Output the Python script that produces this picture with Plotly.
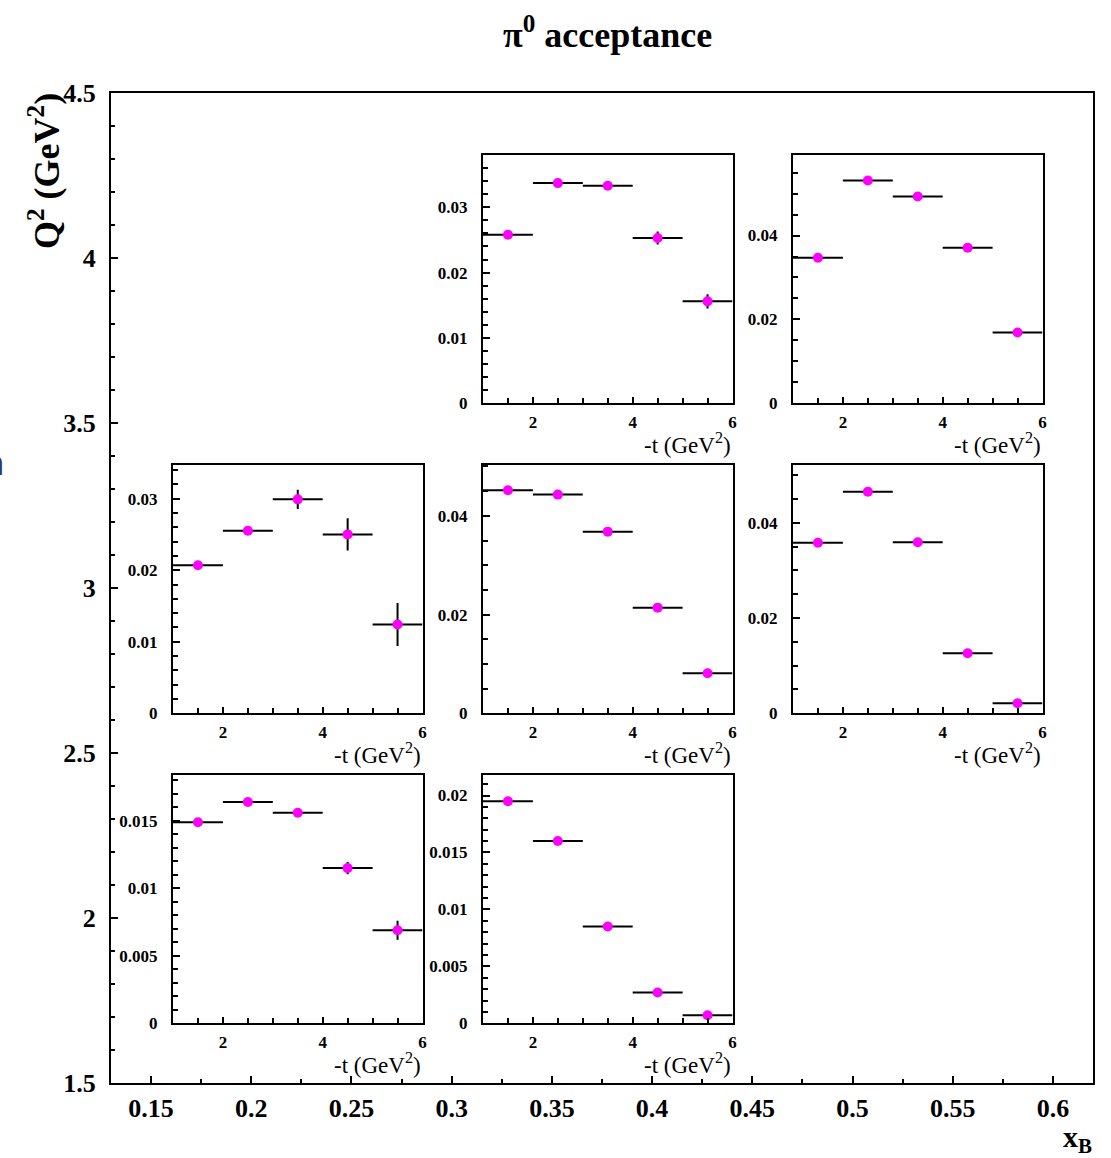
import plotly.graph_objects as go

# ---------------- data ----------------
t_centers = [1.5, 2.5, 3.5, 4.5, 5.5]
t_halfwidth = [0.5, 0.5, 0.5, 0.5, 0.5]

# acceptance values per (xB, Q2) bin panel
acc_A = [0.0258, 0.0337, 0.0333, 0.0253, 0.0156]
err_A = [0.0004, 0.0004, 0.0004, 0.0010, 0.0011]
acc_B = [0.0347, 0.0531, 0.0493, 0.0371, 0.0169]
err_B = [0.0005, 0.0005, 0.0005, 0.0005, 0.0005]
acc_C = [0.0207, 0.0255, 0.0299, 0.0250, 0.0124]
err_C = [0.0004, 0.0004, 0.00135, 0.00225, 0.0030]
acc_D = [0.0452, 0.0443, 0.0368, 0.0214, 0.0081]
err_D = [0.0005, 0.0005, 0.0005, 0.0005, 0.0004]
acc_E = [0.0358, 0.0465, 0.0359, 0.0126, 0.0021]
err_E = [0.0005, 0.0005, 0.0005, 0.0004, 0.0003]
acc_F = [0.0149, 0.0164, 0.0156, 0.0115, 0.0069]
err_F = [0.0002, 0.0002, 0.0002, 0.00045, 0.0007]
acc_G = [0.0195, 0.0160, 0.0085, 0.0027, 0.0007]
err_G = [0.0002, 0.0002, 0.0002, 0.0001, 0.0001]

xB_ticks = [0.15, 0.2, 0.25, 0.3, 0.35, 0.4, 0.45, 0.5, 0.55, 0.6]
xB_labels = ["0.15", "0.2", "0.25", "0.3", "0.35", "0.4", "0.45", "0.5", "0.55", "0.6"]
Q2_ticks = [1.5, 2, 2.5, 3, 3.5, 4, 4.5]
Q2_labels = ["1.5", "2", "2.5", "3", "3.5", "4", "4.5"]

# ---------------- layout geometry ----------------
W, H = 1111, 1158
FONT = "Liberation Serif"
MAG = "#ff00ff"

def px_x(p):
    return p / W

def px_y(p):
    return 1 - p / H

# panel: (values, errors, col, row, ymax, dtick, minor dtick)
panels = [
    (acc_A, err_A, 1, 0, 0.0380, 0.01, 0.002),
    (acc_B, err_B, 2, 0, 0.0592, 0.02, 0.005),
    (acc_C, err_C, 0, 1, 0.0347, 0.01, 0.002),
    (acc_D, err_D, 1, 1, 0.0503, 0.02, 0.005),
    (acc_E, err_E, 2, 1, 0.0521, 0.02, 0.005),
    (acc_F, err_F, 0, 2, 0.0184, 0.005, 0.001),
    (acc_G, err_G, 1, 2, 0.0218, 0.005, 0.001),
]
col_left = [173, 483, 793]
row_top = [155, 465, 775]
pw, ph = 249.5, 248.3

fig = go.Figure()

fig.add_trace(go.Scatter(x=[None], y=[None], xaxis="x", yaxis="y", showlegend=False))

layout = dict(
    width=W, height=H, autosize=False,
    margin=dict(l=0, r=0, t=0, b=0, pad=0, autoexpand=False),
    paper_bgcolor="white", plot_bgcolor="white",
    showlegend=False,
    font=dict(family=FONT, color="black"),
)

layout["xaxis"] = dict(
    domain=[px_x(111), px_x(1093)], range=[0.13, 0.62],
    tickvals=xB_ticks, ticktext=xB_labels,
    showline=True, mirror=True, linecolor="black", linewidth=2,
    ticks="inside", ticklen=7, tickwidth=1.5, tickcolor="black",
    minor=dict(dtick=0.025, tick0=0.0, ticks="inside", ticklen=4, tickwidth=1.5, tickcolor="black"),
    showgrid=False, zeroline=False, automargin=False,
    tickfont=dict(family=FONT, size=26, weight="bold"),
    ticklabelstandoff=1,
    anchor="y",
)
layout["yaxis"] = dict(
    domain=[px_y(1083), px_y(93)], range=[1.5, 4.5],
    tickvals=Q2_ticks, ticktext=Q2_labels,
    showline=True, mirror=True, linecolor="black", linewidth=2,
    ticks="inside", ticklen=7, tickwidth=1.5, tickcolor="black",
    minor=dict(dtick=0.1, tick0=0.0, ticks="inside", ticklen=4, tickwidth=1.5, tickcolor="black"),
    showgrid=False, zeroline=False, automargin=False,
    tickfont=dict(family=FONT, size=26, weight="bold"),
    ticklabelstandoff=8,
    anchor="x",
)

annotations = []

for i, (vals, errs, col, row, ymax, dt, mdt) in enumerate(panels):
    k = i + 2
    xa, ya = f"x{k}", f"y{k}"
    x0 = col_left[col]
    y0 = row_top[row]
    fig.add_trace(go.Scatter(
        x=t_centers, y=vals, xaxis=xa, yaxis=ya, mode="markers",
        marker=dict(color=MAG, size=10, line=dict(width=0)),
        error_x=dict(type="data", array=t_halfwidth, symmetric=True, width=0, thickness=2, color="black"),
        error_y=dict(type="data", array=errs, symmetric=True, width=0, thickness=2, color="black"),
        showlegend=False, cliponaxis=False,
    ))
    layout[f"xaxis{k}"] = dict(
        domain=[px_x(x0), px_x(x0 + pw)], range=[1, 6],
        dtick=2, tick0=0,
        showline=True, mirror=True, linecolor="black", linewidth=2,
        ticks="inside", ticklen=6, tickwidth=1.5, tickcolor="black",
        minor=dict(dtick=0.5, tick0=0, ticks="inside", ticklen=5, tickwidth=1.5, tickcolor="black"),
        showgrid=False, zeroline=False, automargin=False,
        tickfont=dict(family=FONT, size=17, weight="bold"),
        ticklabelstandoff=2,
        anchor=ya,
    )
    layout[f"yaxis{k}"] = dict(
        domain=[px_y(y0 + ph), px_y(y0)], range=[0, ymax],
        dtick=dt, tick0=0,
        showline=True, mirror=True, linecolor="black", linewidth=2,
        ticks="inside", ticklen=7, tickwidth=1.5, tickcolor="black",
        minor=dict(dtick=mdt, tick0=0, ticks="inside", ticklen=5, tickwidth=1.5, tickcolor="black"),
        showgrid=False, zeroline=False, automargin=False,
        tickfont=dict(family=FONT, size=17, weight="bold"),
        ticklabelstandoff=10,
        anchor=xa,
    )
    annotations.append(dict(
        xref="paper", yref="paper",
        x=px_x(x0 + pw), y=px_y(y0 + ph + 40),
        xanchor="right", yanchor="middle",
        text="-t (GeV<sup>2</sup>)", showarrow=False,
        font=dict(family=FONT, size=23, color="black"),
    ))

# titles
annotations.append(dict(
    xref="paper", yref="paper", x=px_x(607), y=px_y(33),
    xanchor="center", yanchor="middle",
    text="π<sup>0</sup> acceptance", showarrow=False,
    font=dict(family=FONT, size=36, color="black", weight="bold"),
))
annotations.append(dict(
    xref="paper", yref="paper", x=px_x(45), y=px_y(171),
    xanchor="center", yanchor="middle", textangle=-90,
    text="Q<sup>2</sup> (GeV<sup>2</sup>)", showarrow=False,
    font=dict(family=FONT, size=36, color="black", weight="bold"),
))
annotations.append(dict(
    xref="paper", yref="paper", x=px_x(1094), y=px_y(1139),
    xanchor="right", yanchor="middle",
    text="x<sub>B</sub>", showarrow=False,
    font=dict(family=FONT, size=30, color="black", weight="bold"),
))
# stray cropped glyph at the left edge of the reference image
annotations.append(dict(
    xref="paper", yref="paper", x=px_x(6), y=px_y(462),
    xanchor="right", yanchor="middle",
    text="n", showarrow=False,
    font=dict(family="Open Sans", size=34, color="#2b3a67", weight="bold"),
))

layout["annotations"] = annotations
fig.update_layout(**layout)

fig.write_html("out.html", config={"displayModeBar": False},
               post_script="document.body.style.margin='0px';")
